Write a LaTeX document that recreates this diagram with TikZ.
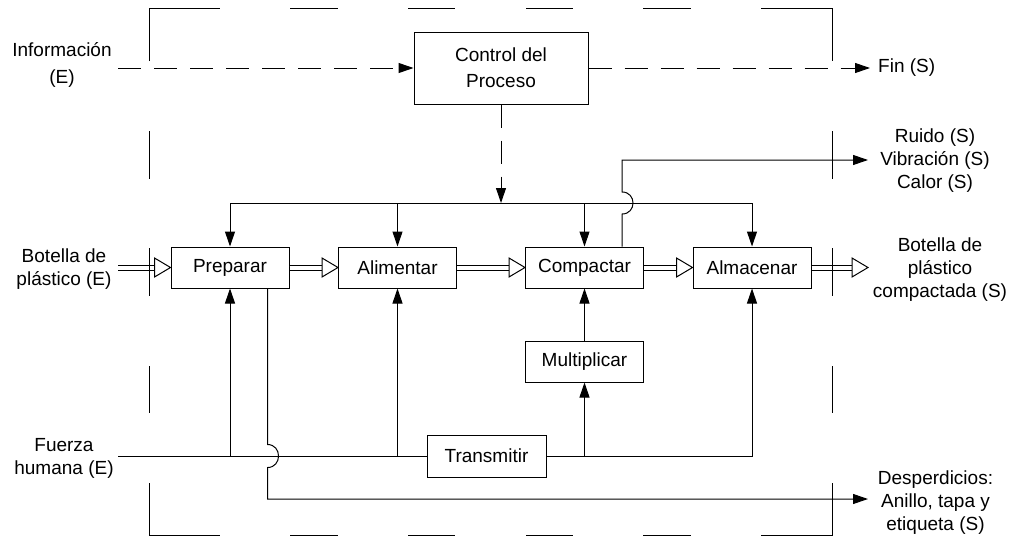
\documentclass[tikz,border=0pt]{standalone}
\usepackage{fontspec}
\setmainfont{Liberation Sans}
\usetikzlibrary{arrows.meta,calc}
\newcommand\dblarrow[2]{%
  \draw[dbl] (#1) -- ($(#2)+(-14,0)$);
  \draw[tri] (#2) -- ++(-16,9.5) -- ++(0,-19) -- cycle;}
\begin{document}
\begin{tikzpicture}[x=1pt,y=-1pt,
  font=\fontsize{19}{23}\selectfont,
  box/.style={draw, line width=1pt, minimum width=118pt, minimum height=41pt, inner sep=0pt, align=center},
  lbl/.style={inner sep=0pt, align=center},
  ln/.style={draw, line width=1pt},
  lnk/.style={draw, line width=1pt, -{Triangle[length=15pt,width=10pt]}},
  dlnk/.style={lnk, dash pattern=on 23pt off 13pt},
  dbl/.style={draw, line width=1pt, double, double distance=4pt},
  tri/.style={draw, line width=1pt, fill=white, line join=miter},
  frame/.style={draw, line width=1pt}]
\useasboundingbox (0,0) rectangle (1014,538);

% boxes
\node[box, minimum width=174pt, minimum height=72pt, font=\fontsize{19}{26}\selectfont] (ctrl) at (501,68) {Control del\\Proceso};
\node[box] (prep) at (230,267.5) {Preparar};
\node[box] (alim) at (397.5,267.5) {Alimentar};
\node[box] (comp) at (584.5,267.5) {Compactar};
\node[box] (alma) at (752,267.5) {Almacenar};
\node[box] (mult) at (584.5,361.5) {Multiplicar};
\node[box, minimum width=119pt, minimum height=42pt] (trans) at (486.5,456) {Transmitir};

% labels
\node[lbl, font=\fontsize{19}{26.5}\selectfont] (info) at (62,65) {Información\\(E)};
\node[lbl] (botin) at (64,269) {Botella de\\plástico (E)};
\node[lbl] (fuerza) at (64,458) {Fuerza\\humana (E)};
\node[lbl, anchor=west] (fin) at (878,68) {Fin (S)};
\node[lbl] (ruido) at (935,161) {Ruido (S)\\Vibración (S)\\Calor (S)};
\node[lbl] (botout) at (940,270) {Botella de\\plástico\\compactada (S)};
\node[lbl] (desp) at (935.5,503) {Desperdicios:\\Anillo, tapa y\\etiqueta (S)};

% free ends
\coordinate (infoS) at (118,68);
\coordinate (finE) at (870,68);
\coordinate (bus) at (501,203);
\coordinate (botinS) at (118,267.5);
\coordinate (botoutE) at (868,267.5);
\coordinate (fuerzaS) at (118,456);
\coordinate (noiseE) at (868,160);
\coordinate (despE) at (868,499);
\coordinate (cj) at ($(comp.north east)+(-22,0)$);
\coordinate (pj) at ($(prep.south east)+(-22,0)$);

% information / control
\draw[dlnk] (infoS) -- (ctrl.west);
\draw[dlnk] (ctrl.east) -- (finE);
\draw[dlnk] (ctrl.south) -- (bus);
\draw[ln] (prep.north |- bus) -- (alma.north |- bus);
\foreach \n in {prep,alim,comp,alma} \draw[lnk] (\n.north |- bus) -- (\n.north);

% noise / vibration / heat
\draw[lnk] (cj) -- ($(cj|-bus)+(0,11)$)
  .. controls ($(cj|-bus)+(14.7,11)$) and ($(cj|-bus)+(14.7,-11)$) .. ($(cj|-bus)+(0,-11)$)
  -- (cj |- noiseE) -- (noiseE);

% waste
\draw[lnk] (pj) -- ($(pj|-fuerzaS)+(0,-11.5)$)
  .. controls ($(pj|-fuerzaS)+(14.7,-11.5)$) and ($(pj|-fuerzaS)+(14.7,11.5)$) .. ($(pj|-fuerzaS)+(0,11.5)$)
  -- (pj |- despE) -- (despE);

% human force
\draw[ln] (fuerzaS) -- (trans.west);
\draw[lnk] (prep.south |- fuerzaS) -- (prep.south);
\draw[lnk] (alim.south |- fuerzaS) -- (alim.south);
\draw[lnk] (trans.east) -- (alma.south |- trans.east) -- (alma.south);
\draw[lnk] (mult.south |- trans.east) -- (mult.south);
\draw[lnk] (mult.north) -- (comp.south);

% material flow
\dblarrow{botinS}{prep.west}
\dblarrow{prep.east}{alim.west}
\dblarrow{alim.east}{comp.west}
\dblarrow{comp.east}{alma.west}
\dblarrow{alma.east}{botoutE}

% system boundary
\draw[frame] (149,61) -- (149,8) -- (220,8);
\draw[frame] (761,8) -- (832,8) -- (832,61);
\draw[frame] (149,483) -- (149,535) -- (220,535);
\draw[frame] (761,535) -- (832,535) -- (832,483);
\foreach \a/\b in {290/338,408/455,526/573,643/691} {
  \draw[frame] (\a,8) -- (\b,8);
  \draw[frame] (\a,535) -- (\b,535);
}
\foreach \a/\b in {131/179,248/296,366/413} {
  \draw[frame] (149,\a) -- (149,\b);
  \draw[frame] (832,\a) -- (832,\b);
}
\end{tikzpicture}
\end{document}
